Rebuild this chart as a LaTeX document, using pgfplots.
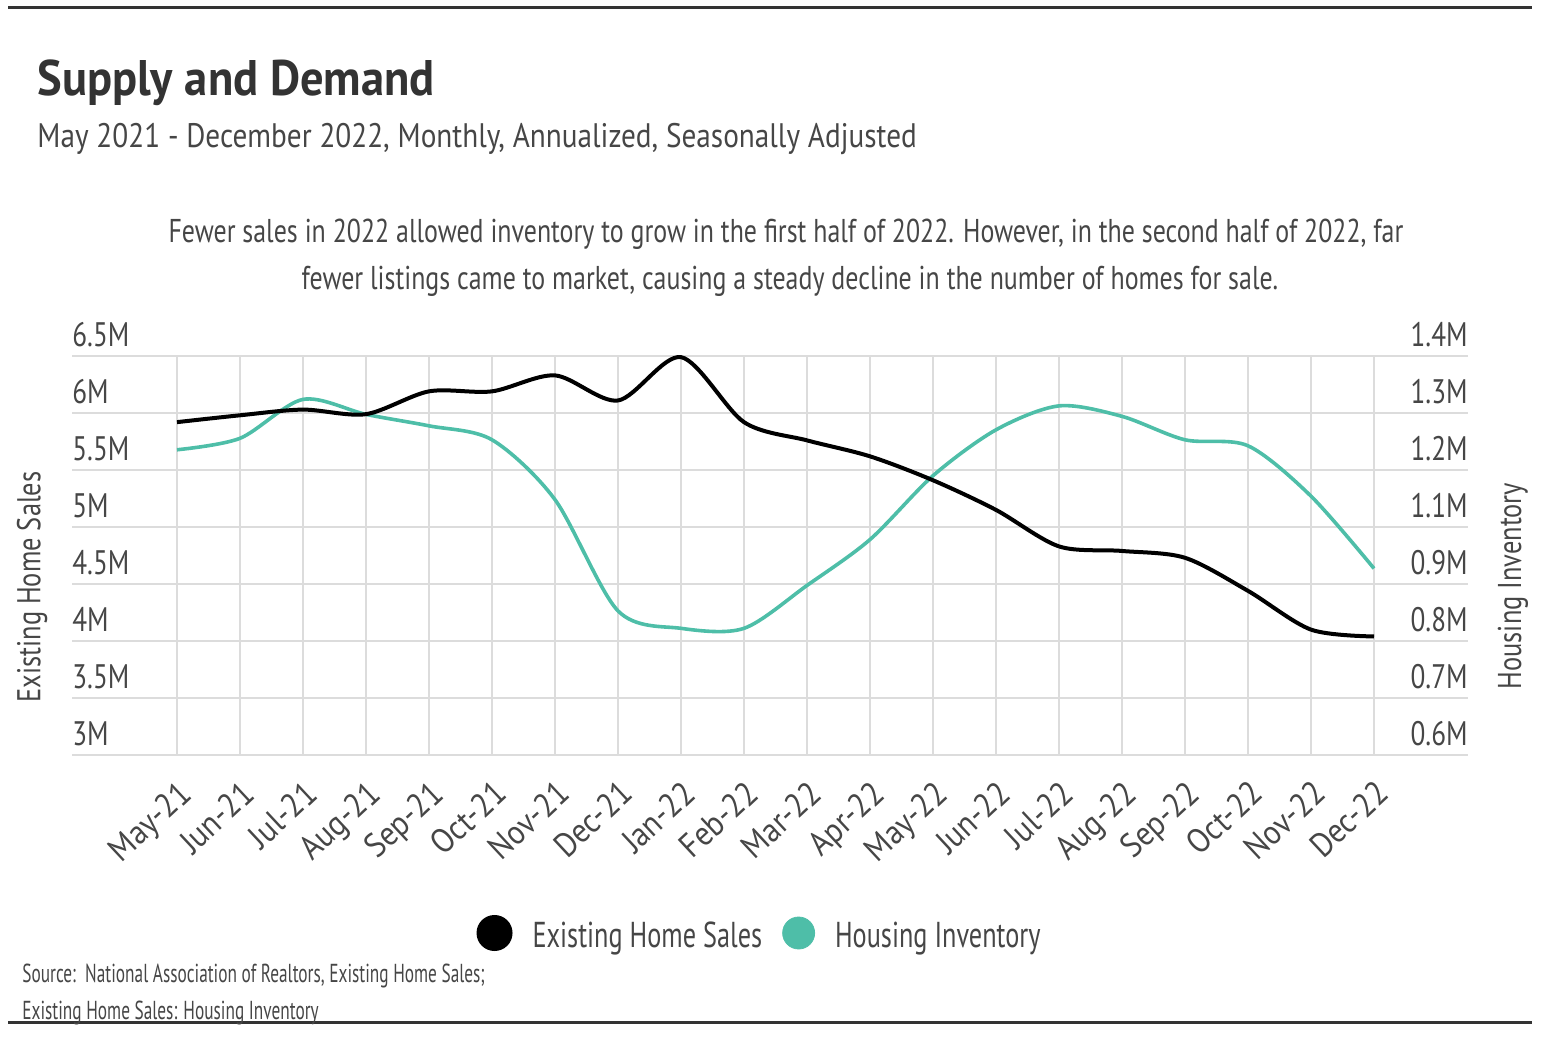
\documentclass[border=0pt]{standalone}
\usepackage{fontspec}
\setmainfont{PT Sans}[FakeStretch=0.8]
\newfontfamily\titlefont{PT Sans}[FakeStretch=0.93]
\newfontfamily\subfont{PT Sans}[FakeStretch=0.86]
\newfontfamily\annfont{PT Sans}[FakeStretch=0.785]
\newfontfamily\legfont{PT Sans}[FakeStretch=0.73]
\newfontfamily\xfont{PT Sans}[FakeStretch=0.9]
\newfontfamily\srcfont{PT Sans}[FakeStretch=0.665]
\usepackage{pgfplots}
\usepackage{pgfplotstable}
\pgfplotsset{compat=1.18}
\definecolor{tealc}{RGB}{78,190,168}
\definecolor{txt}{RGB}{70,70,70}
\definecolor{ttl}{RGB}{51,51,51}
\definecolor{gridc}{RGB}{220,220,220}

\pgfplotstableread{
x sales inv
0 5.92 1.212
1 5.98 1.235
2 6.03 1.313
3 5.99 1.283
4 6.19 1.260
5 6.19 1.232
6 6.33 1.112
7 6.11 0.889
8 6.49 0.854
9 5.92 0.854
10 5.76 0.940
11 5.62 1.032
12 5.41 1.160
13 5.15 1.252
14 4.83 1.300
15 4.79 1.279
16 4.73 1.232
17 4.44 1.220
18 4.10 1.119
19 4.04 0.974
}\datatable

\begin{document}
\begin{tikzpicture}
\path[use as bounding box] (0,0) rectangle (772pt,-520pt);
\draw[ttl, line width=1.5pt] (4pt,-3.5pt) -- (766pt,-3.5pt);
\draw[ttl, line width=1.5pt] (4pt,-511pt) -- (766pt,-511pt);
\node[anchor=base west, inner sep=0, text=ttl, font=\titlefont\fontsize{25}{30}\selectfont\bfseries] at (18.5pt,-47.5pt) {Supply and Demand};
\node[anchor=base west, inner sep=0, text=txt, font=\subfont\fontsize{17}{20}\selectfont] at (18.5pt,-73.5pt) {May 2021 - December 2022, Monthly, Annualized, Seasonally Adjusted};
\node[anchor=base, inner sep=0, text=txt, font=\annfont\fontsize{16.5}{20}\selectfont] at (393pt,-121pt) {Fewer sales in 2022 allowed inventory to grow in the first half of 2022. However, in the second half of 2022, far};
\node[anchor=base, inner sep=0, text=txt, font=\annfont\fontsize{16.5}{20}\selectfont] at (395pt,-144.5pt) {fewer listings came to market, causing a steady decline in the number of homes for sale.};
\node[rotate=90, inner sep=0, text=txt, font=\fontsize{16.5}{20}\selectfont] at (16pt,-293.5pt) {Existing Home Sales};
\node[rotate=90, inner sep=0, text=txt, font=\fontsize{16.5}{20}\selectfont] at (756.5pt,-293pt) {Housing Inventory};
\node[anchor=base west, inner sep=0, text=txt, font=\srcfont\fontsize{13}{15}\selectfont] at (11pt,-491pt) {Source:\ \ National Association of Realtors, Existing Home Sales;};
\node[anchor=base west, inner sep=0, text=txt, font=\srcfont\fontsize{13}{15}\selectfont] at (11pt,-509.5pt) {Existing Home Sales: Housing Inventory};

\pgfplotsset{
  common/.style={
    at={(36pt,-377.5pt)}, anchor=south west,
    scale only axis, width=698pt, height=199.5pt,
    xmin=-1.6667, xmax=20.492,
    axis line style={draw=none}, major tick length=0pt,
    tick label style={text=txt, font=\fontsize{17}{20}\selectfont},
    clip=false,
  }
}
% Inventory axis (right) with grid
\begin{axis}[common,
  ymin=0.6, ymax=1.4,
  axis y line*=right,
  xtick={0,...,19},
  xticklabels={May-21,Jun-21,Jul-21,Aug-21,Sep-21,Oct-21,Nov-21,Dec-21,Jan-22,Feb-22,Mar-22,Apr-22,May-22,Jun-22,Jul-22,Aug-22,Sep-22,Oct-22,Nov-22,Dec-22},
  xticklabel style={rotate=43, anchor=north east, inner sep=0pt, xshift=-8pt, yshift=-8.5pt, font=\xfont\fontsize{17}{20}\selectfont},
  ytick={0.6,0.7142857,0.8285714,0.9428571,1.0571429,1.1714286,1.2857143,1.4},
  yticklabels={0.6M,0.7M,0.8M,0.9M,1.1M,1.2M,1.3M,1.4M},
  yticklabel style={anchor=south east, inner sep=0pt, yshift=4.5pt},
  xmajorgrids, ymajorgrids, grid style={gridc, line width=0.75pt},
]
\addplot[tealc, line width=1.8pt, smooth, tension=0.5] table[x=x,y=inv]{\datatable};
\end{axis}
% Sales axis (left)
\begin{axis}[common,
  ymin=3, ymax=6.5,
  axis y line*=left,
  hide x axis,
  ytick={3,3.5,4,4.5,5,5.5,6,6.5},
  yticklabels={3M,3.5M,4M,4.5M,5M,5.5M,6M,6.5M},
  yticklabel style={anchor=south west, inner sep=0pt, yshift=4.5pt},
  legend style={at={(0.4918,-0.4461)}, anchor=center, draw=none, fill=none,
    legend columns=-1, font=\legfont\fontsize{18}{22}\selectfont, text=txt,
    nodes={inner sep=0pt}, /tikz/every even column/.append style={column sep=10pt}},
  legend cell align=left,
]
\addplot[black, line width=2pt, smooth, tension=0.5, legend image code/.code={\fill[black] (0pt,1.8pt) circle (8pt); \path (18pt,1.8pt);}] table[x=x,y=sales]{\datatable};
\addlegendentry{Existing Home Sales}
\addlegendimage{legend image code/.code={\fill[tealc] (0pt,1.8pt) circle (8pt); \path (18pt,1.8pt);}}
\addlegendentry{Housing Inventory}
\end{axis}
\end{tikzpicture}
\end{document}
